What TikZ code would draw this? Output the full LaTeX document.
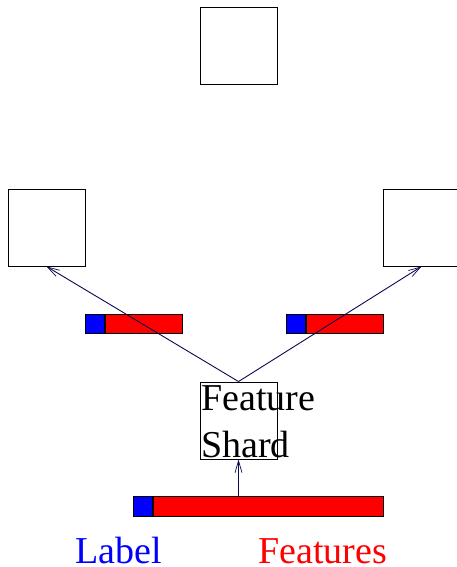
\documentclass[tikz,border=0pt]{standalone}
\usepackage{fontspec}
\setmainfont{Liberation Serif}
\usetikzlibrary{arrows.meta}
\definecolor{linkcol}{RGB}{10,10,80}
\tikzset{
  worker/.style={draw=black, line width=0.9pt, minimum width=77pt, minimum height=77pt, inner sep=0pt},
  labelcell/.style={draw=black, line width=0.7pt, fill=blue, minimum height=19.5pt, inner sep=0pt},
  featcell/.style={draw=black, line width=0.7pt, fill=red, minimum height=19.5pt, inner sep=0pt},
  link/.style={draw=linkcol, line width=0.9pt, -{Straight Barb[length=12pt,width=7pt,line width=0.7pt]}},
  bigtext/.style={font=\fontsize{38}{47}\selectfont, inner sep=0pt}
}
\begin{document}
\begin{tikzpicture}[x=1pt, y=-1pt]
  \useasboundingbox (0,0) rectangle (457,567);

  % workers
  \node[worker] (top)   at (238.5,45.5) {};
  \node[worker] (left)  at (46.5,227.5) {};
  \node[worker] (right) at (421.5,227.5) {};
  \node[worker] (shard) at (238.5,420.5) {};
  \node[bigtext, anchor=north west, align=left] (shardtext) at (201,385) {Feature\\Shard};

  % sample rows: label cell + feature cells
  \node[labelcell, minimum width=19.5pt] (lab1) at (94.7,324) {};
  \node[featcell, minimum width=76.7pt, anchor=west] (feat1) at (lab1.east) {};
  \node[labelcell, minimum width=19.5pt] (lab2) at (295.9,324) {};
  \node[featcell, minimum width=76.7pt, anchor=west] (feat2) at (lab2.east) {};
  \node[labelcell, minimum width=19.5pt] (lab0) at (142.6,506.3) {};
  \node[featcell, minimum width=230.5pt, anchor=west] (feat0) at (lab0.east) {};

  % legend
  \node[bigtext, text=blue, anchor=base west] (leglabel) at (75,563.5) {Label};
  \node[bigtext, text=red, anchor=base west] (legfeat) at (258,563.5) {Features};

  % connections
  \draw[link] (shard.north) -- (left.south);
  \draw[link] (shard.north) -- (right.south);
  \draw[link] (shard.south |- feat0.north) -- (shard.south);
\end{tikzpicture}
\end{document}
